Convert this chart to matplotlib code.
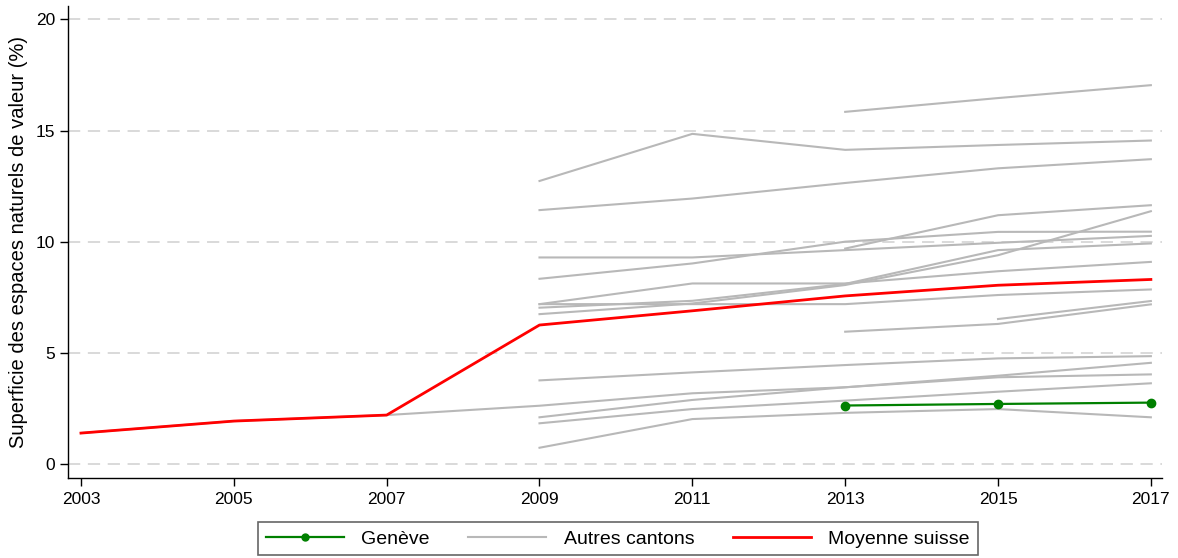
import numpy as np
import matplotlib
matplotlib.use("Agg")
import matplotlib.pyplot as plt

plt.rcParams["font.family"] = ["Liberation Sans", "DejaVu Sans"]

# Survey years
years = [2003, 2005, 2007, 2009, 2011, 2013, 2015, 2017]
nan = np.nan

# Share of valuable natural areas (%), one row per other canton
autres_cantons = [
    [nan, nan, nan, nan, nan, 15.84, 16.46, 17.04],
    [nan, nan, nan, 12.73, 14.85, 14.13, 14.35, 14.55],
    [nan, nan, nan, 11.42, 11.94, 12.64, 13.30, 13.71],
    [nan, nan, nan, nan, nan, 9.69, 11.19, 11.64],
    [nan, nan, nan, 8.33, 9.02, 10.00, 10.44, 10.45],
    [nan, nan, nan, 9.29, 9.29, 9.62, 9.95, 10.26],
    [nan, nan, nan, 7.03, 7.34, 8.10, 9.62, 9.92],
    [nan, nan, nan, 6.74, 7.22, 8.05, 9.39, 11.37],
    [nan, nan, nan, 7.19, 8.12, 8.12, 8.67, 9.09],
    [nan, nan, nan, 7.19, 7.19, 7.19, 7.60, 7.85],
    [nan, nan, nan, nan, nan, 5.95, 6.30, 7.18],
    [nan, nan, nan, nan, nan, nan, 6.52, 7.33],
    [nan, nan, nan, 3.76, 4.12, 4.45, 4.75, 4.85],
    [1.39, 1.93, 2.20, 2.62, 3.18, 3.45, 3.90, 4.03],
    [nan, nan, nan, 2.10, 2.88, 3.45, 3.97, 4.55],
    [nan, nan, nan, 1.83, 2.47, 2.85, 3.25, 3.63],
    [nan, nan, nan, 0.73, 2.02, 2.30, 2.47, 2.10],
]

geneve = [nan, nan, nan, nan, nan, 2.63, 2.70, 2.76]
moyenne_suisse = [1.39, 1.93, 2.20, 6.25, 6.89, 7.56, 8.04, 8.30]

y_ticks = [0, 5, 10, 15, 20]

fig = plt.figure(figsize=(11.78, 5.58), dpi=100)
ax = fig.add_axes([0.0577, 0.1434, 0.929, 0.845])

for y in y_ticks:
    ax.axhline(y, color="#d0d0d0", linewidth=1.1, linestyle=(0, (8, 5)), zorder=0)

yrs = np.array(years)
for i, row in enumerate(autres_cantons):
    vals = np.array(row, dtype=float)
    mask = ~np.isnan(vals)
    ax.plot(yrs[mask], vals[mask], color="#b8b8b8", linewidth=1.5,
            label="Autres cantons" if i == 0 else None, zorder=2)

gv = np.array(geneve, dtype=float)
gm = ~np.isnan(gv)
ax.plot(yrs[gm], gv[gm], color="#008000", linewidth=1.6, marker="o",
        markersize=6, label="Genève", zorder=4)

ax.plot(yrs, moyenne_suisse, color="#ff0000", linewidth=2.0,
        label="Moyenne suisse", zorder=3)

ax.set_xlim(2002.83, 2017.15)
ax.set_ylim(-0.63, 20.58)
ax.set_xticks(years)
ax.set_yticks(y_ticks)
ax.tick_params(axis="both", direction="out", length=6, width=1,
               labelsize=12.5, colors="black")
ax.tick_params(axis="x", pad=4)
ax.tick_params(axis="y", pad=3)
for side in ("top", "right"):
    ax.spines[side].set_visible(False)
for side in ("left", "bottom"):
    ax.spines[side].set_linewidth(1.0)

ax.set_ylabel("Superficie des espaces naturels de valeur (%)", fontsize=14.5,
              labelpad=6)

handles, labels = ax.get_legend_handles_labels()
order = [labels.index(n) for n in ("Genève", "Autres cantons", "Moyenne suisse")]
leg = fig.legend([handles[i] for i in order], [labels[i] for i in order],
                 loc="center", bbox_to_anchor=(0.5245, 0.0345), ncol=3,
                 fontsize=14, frameon=True, fancybox=False,
                 edgecolor="#404040", handlelength=4.0, columnspacing=2.0,
                 borderpad=0.4, handletextpad=0.9)
leg.get_frame().set_linewidth(1.2)
for h in leg.legend_handles:
    if h.get_marker() == "o":
        h.set_markersize(5)

fig.savefig("out.png", dpi=100)
